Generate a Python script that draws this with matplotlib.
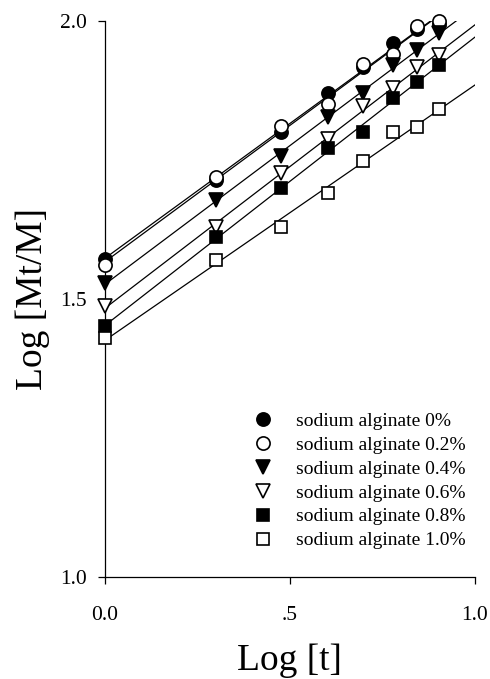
import numpy as np
import matplotlib
matplotlib.use('Agg')
import matplotlib.pyplot as plt

# Data
log_t = [0.0, 0.301, 0.477, 0.602, 0.699, 0.778, 0.845, 0.903]

alg_0 = [1.573, 1.715, 1.801, 1.871, 1.918, 1.961, 1.985, 1.995]
alg_02 = [1.561, 1.719, 1.811, 1.851, 1.922, 1.940, 1.991, 2.000]
alg_04 = [1.529, 1.678, 1.757, 1.828, 1.870, 1.921, 1.948, 1.978]
alg_06 = [1.487, 1.630, 1.727, 1.787, 1.847, 1.879, 1.918, 1.939]
alg_08 = [1.451, 1.611, 1.700, 1.771, 1.800, 1.862, 1.891, 1.921]
alg_10 = [1.430, 1.570, 1.630, 1.690, 1.749, 1.800, 1.810, 1.841]

labels = ['sodium alginate 0%', 'sodium alginate 0.2%', 'sodium alginate 0.4%',
          'sodium alginate 0.6%', 'sodium alginate 0.8%', 'sodium alginate 1.0%']
series = [alg_0, alg_02, alg_04, alg_06, alg_08, alg_10]
markers = ['o', 'o', 'v', 'v', 's', 's']
faces = ['black', 'white', 'black', 'white', 'black', 'white']
sizes = [9.5, 9.5, 10, 10, 8.5, 8.5]

xticks = [0.0, 0.5, 1.0]
xtick_labels = ['0.0', '.5', '1.0']
yticks = [1.0, 1.5, 2.0]
ytick_labels = ['1.0', '1.5', '2.0']

plt.rcParams['font.family'] = ['Liberation Serif', 'DejaVu Serif']

fig = plt.figure(figsize=(4.9, 6.79), dpi=100)
ax = fig.add_axes([0.214, 0.150, 0.755, 0.819])

# Regression lines (fitted from each series)
xs = np.array(log_t)
xline = np.array([0.0, 1.0])
for ys in series:
    slope, icpt = np.polyfit(xs, np.array(ys), 1)
    ax.plot(xline, icpt + slope * xline, color='black', lw=0.9, zorder=2)

# Markers
for ys, m, fc, ms, lab in zip(series, markers, faces, sizes, labels):
    ax.plot(log_t, ys, linestyle='none', marker=m, markersize=ms,
            markerfacecolor=fc, markeredgecolor='black', markeredgewidth=1.2,
            label=lab, clip_on=False, zorder=3)

ax.set_xlim(0, 1)
ax.set_ylim(1, 2)
ax.spines['top'].set_visible(False)
ax.spines['right'].set_visible(False)
ax.spines['left'].set_linewidth(0.9)
ax.spines['bottom'].set_linewidth(0.9)

ax.set_xticks(xticks)
ax.set_xticklabels(xtick_labels)
ax.set_yticks(yticks)
ax.set_yticklabels(ytick_labels)
ax.tick_params(axis='x', direction='out', length=5, width=0.9, pad=16, labelsize=15.5)
ax.tick_params(axis='y', direction='out', length=5, width=0.9, pad=8, labelsize=15.5)

ax.set_xlabel('Log [t]', fontsize=27, labelpad=13)
ax.set_ylabel('Log [Mt/M]', fontsize=27, labelpad=7)

ax.legend(loc='upper left', bbox_to_anchor=(0.4, 0.296), frameon=False,
          fontsize=14, handlelength=1.0, handletextpad=1.2, labelspacing=0.32,
          borderpad=0, borderaxespad=0, markerscale=1.0)

plt.savefig('out.png', dpi=100)
